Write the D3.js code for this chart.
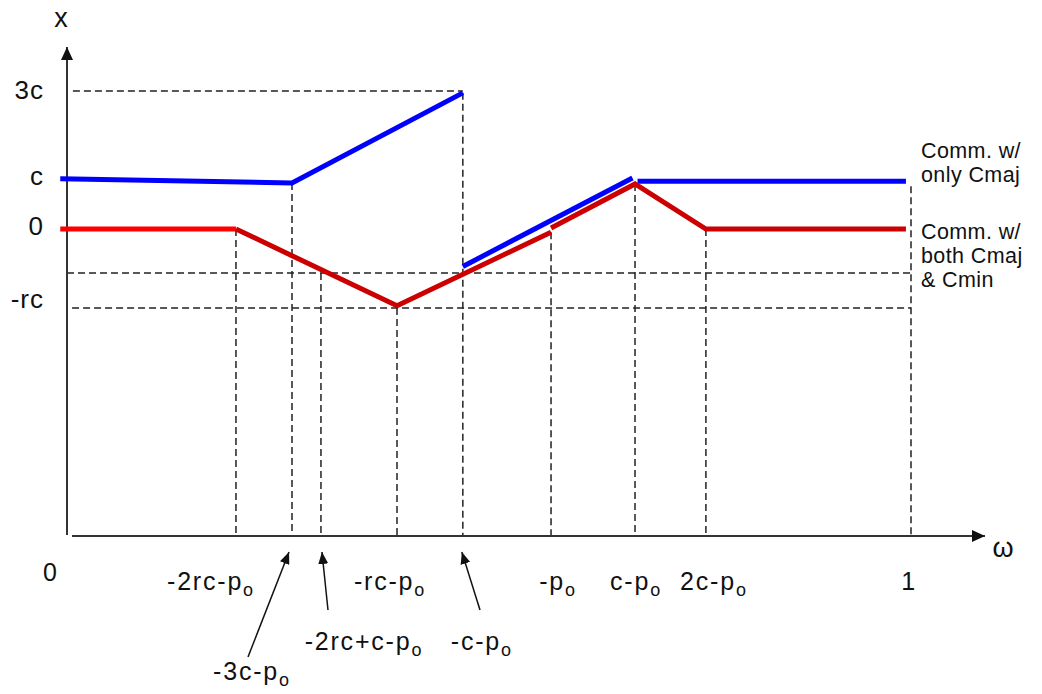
<!DOCTYPE html>
<html>
<head>
<meta charset="utf-8">
<script src="https://cdn.jsdelivr.net/npm/d3@7"></script>
<style>
body { margin: 0; background: #fff; }
svg { display: block; font-family: "Liberation Sans", Arial, Helvetica, sans-serif; }
.guide { stroke: #222; stroke-width: 1.5; stroke-dasharray: 7 4; fill: none; }
.axis { stroke: #333; stroke-width: 2; fill: none; }
.pointer { stroke: #111; stroke-width: 1.5; fill: none; }
.series { fill: none; stroke-width: 5; stroke-linecap: butt; }
text { fill: #111; }
</style>
</head>
<body>
<script>
// Data {{{1
// marked frequencies on the ω axis (0 .. 1)
const tickLabels = ["-2rc-p", "-3c-p", "-2rc+c-p", "-rc-p", "-c-p", "-p", "c-p", "2c-p", "1"];
const tickSubs   = ["o", "o", "o", "o", "o", "o", "o", "o", ""];
const tickOmega  = [0.2002, 0.2666, 0.3009, 0.391, 0.469, 0.5735, 0.673, 0.757, 1];

// marked levels on the x axis
const levelLabels = ["3c", "c", "0", "-rc"];
const levelValues = [3, 1.04, 0, -1.72];

// Comm. w/ only Cmaj  (segments of [ω, x])
const onlyCmaj = [
    [[-0.008, 1.09], [0.2666, 1.0], [0.469, 2.96]],
    [[0.469, -0.815], [0.670, 1.11]],
    [[0.676, 1.04], [0.994, 1.04]]
];
// Comm. w/ both Cmaj & Cmin
const bothCmajCmin = [
    [[-0.008, 0], [0.2002, 0]],
    [[0.2002, 0], [0.391, -1.67], [0.5735, -0.07]],
    [[0.5735, 0.02], [0.673, 0.98], [0.757, 0], [0.994, 0]]
];

// dashed drop lines [ω, top value] and level lines [value, ω from, ω to]
const dropLines = [[0.2002, 0], [0.2666, 1.0], [0.3009, -0.957], [0.391, -1.72], [0.469, 2.96],
    [0.5735, -0.07], [0.673, 0.98], [0.757, 0], [1, 0.93]];
const levelLines = [[3, 0.007, 0.469], [-0.957, 0, 1], [-1.72, 0.006, 1]];

const legendLines = [["Comm. w/", "only Cmaj"], ["Comm. w/", "both Cmaj", "& Cmin"]];

// Layout {{{1
const width = 1042, height = 694;
const axisY = 536;
const x = d3.scaleLinear().domain([0, 1]).range([67, 911]);
const y = d3.scaleLinear().domain([0, 3]).range([229, 91]);

// label placement for each tick: [dx from tick, row]
const tickPlace = [[-25, 0], [-40, 2], [43, 1], [-7, 0], [19, 1], [7, 0], [1, 0], [8, 0], [-2, 0]];
const rowBase = [590, 650, 680];
const levelDy = [8, 4, 6, 0];
// pointer arrows: tick index -> tail position
const pointers = [[1, 248, 657, -3], [2, 328, 610, 1], [4, 480, 610, -1]];

const svg = d3.select("body").append("svg")
    .attr("width", width).attr("height", height)
    .attr("viewBox", [0, 0, width, height]);

const defs = svg.append("defs");
defs.append("marker")
    .attr("id", "axisHead").attr("markerUnits", "userSpaceOnUse")
    .attr("viewBox", [0, 0, 13, 12]).attr("markerWidth", 13).attr("markerHeight", 12)
    .attr("refX", 13).attr("refY", 6).attr("orient", "auto")
    .append("path").attr("d", "M0,0 L13,6 L0,12 z").attr("fill", "#111");
defs.append("marker")
    .attr("id", "ptrHead").attr("markerUnits", "userSpaceOnUse")
    .attr("viewBox", [0, 0, 12, 10]).attr("markerWidth", 12).attr("markerHeight", 10)
    .attr("refX", 12).attr("refY", 5).attr("orient", "auto")
    .append("path").attr("d", "M0,0 L12,5 L0,10 z").attr("fill", "#111");

// Guides {{{1
svg.append("g").selectAll("line").data(dropLines).join("line")
    .classed("guide", true)
    .attr("x1", d => x(d[0])).attr("x2", d => x(d[0]))
    .attr("y1", d => y(d[1])).attr("y2", axisY);

svg.append("g").selectAll("line").data(levelLines).join("line")
    .classed("guide", true)
    .attr("x1", d => x(d[1])).attr("x2", d => x(d[2]))
    .attr("y1", d => y(d[0])).attr("y2", d => y(d[0]));

// Axes {{{1
svg.append("line").classed("axis", true)
    .attr("x1", x(0)).attr("y1", axisY - 1).attr("x2", x(0)).attr("y2", 47)
    .attr("marker-end", "url(#axisHead)");
svg.append("line").classed("axis", true)
    .attr("x1", x(0) + 5).attr("y1", axisY).attr("x2", 985).attr("y2", axisY)
    .attr("marker-end", "url(#axisHead)");

svg.append("text").attr("x", 61).attr("y", 27).attr("text-anchor", "middle")
    .attr("font-size", 27).text("x");
svg.append("text").attr("x", 1003).attr("y", 557).attr("text-anchor", "middle")
    .attr("font-size", 27).text("ω");

svg.append("g").selectAll("text").data(levelLabels).join("text")
    .attr("x", 44).attr("y", (d, i) => y(levelValues[i]) + levelDy[i])
    .attr("text-anchor", "end").attr("font-size", 26).attr("letter-spacing", 1)
    .text(d => d);

svg.append("text").attr("x", x(0) - 17).attr("y", 581).attr("text-anchor", "middle")
    .attr("font-size", 25).text("0");

const tickText = svg.append("g").selectAll("text").data(tickLabels).join("text")
    .attr("x", (d, i) => x(tickOmega[i]) + tickPlace[i][0])
    .attr("y", (d, i) => rowBase[tickPlace[i][1]])
    .attr("text-anchor", "middle").attr("font-size", 25).attr("letter-spacing", 1.8);
tickText.append("tspan").text(d => d);
tickText.append("tspan").attr("font-size", 18).attr("dy", 6).text((d, i) => tickSubs[i]);

svg.append("g").selectAll("line").data(pointers).join("line")
    .classed("pointer", true)
    .attr("x1", d => d[1]).attr("y1", d => d[2])
    .attr("x2", d => x(tickOmega[d[0]]) + d[3]).attr("y2", 552)
    .attr("marker-end", "url(#ptrHead)");

// Series {{{1
const line = d3.line().x(d => x(d[0])).y(d => y(d[1]));

svg.append("g").selectAll("path").data(onlyCmaj).join("path")
    .classed("series", true).attr("stroke", "#0000ff").attr("d", line);

svg.append("g").selectAll("path").data(bothCmajCmin).join("path")
    .classed("series", true)
    .attr("stroke", (d, i) => i == 0 ? "#ff0000" : "#cc0000")
    .attr("d", line);

// Legend {{{1
const legendBase = [y(onlyCmaj[2][1][1]) - 23, y(0) + 10];
legendLines.forEach((lines, k) => {
    svg.append("g").selectAll("text").data(lines).join("text")
        .attr("x", 921).attr("y", (d, i) => legendBase[k] + i * 24.2)
        .attr("font-size", 21.5).attr("letter-spacing", 0.4).text(d => d);
});
</script>
</body>
</html>
